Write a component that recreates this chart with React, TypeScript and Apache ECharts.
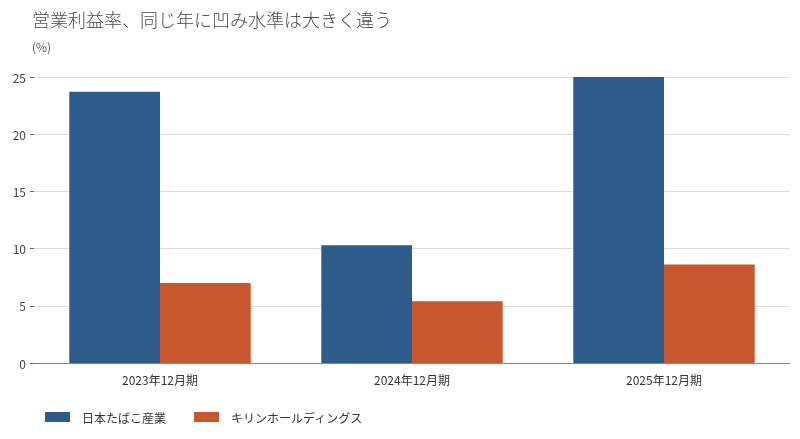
import React, { useEffect, useRef } from "react";
import * as echarts from "echarts";

const categories = ["2023年12月期", "2024年12月期", "2025年12月期"];
const seriesNames = ["日本たばこ産業", "キリンホールディングス"];
const jtValues = [23.7, 10.3, 25.0];
const kirinValues = [7.0, 5.4, 8.6];
const yTicks = { min: 0, max: 25, interval: 5 };

const FONT = "'Noto Sans CJK JP', 'Noto Sans', sans-serif";

export default function App() {
  const ref = useRef<HTMLDivElement>(null);
  useEffect(() => {
    if (!ref.current) return;
    const chart = echarts.init(ref.current, undefined, { renderer: "svg" });
    chart.setOption({
      animation: false,
      textStyle: { fontFamily: FONT },
      title: {
        text: "営業利益率、同じ年に凹み水準は大きく違う",
        left: 27,
        top: 5,
        textStyle: { fontSize: 18, fontWeight: 300, color: "#4a4a4a", fontFamily: FONT },
      },
      grid: { left: 34, right: 10, top: 77, bottom: 76 },
      legend: {
        left: 40,
        top: 406,
        itemWidth: 25,
        itemHeight: 10,
        itemGap: 28,
        icon: "rect",
        textStyle: { fontSize: 12, color: "#333", fontFamily: FONT, padding: [0, 0, 0, 7] },
        data: seriesNames,
      },
      xAxis: {
        type: "category",
        data: categories,
        axisLine: { lineStyle: { color: "#888" } },
        axisTick: { alignWithLabel: true, length: 4, lineStyle: { color: "#666" } },
        axisLabel: { fontSize: 12, color: "#333", margin: 10, fontFamily: FONT },
      },
      yAxis: {
        type: "value",
        min: yTicks.min,
        max: yTicks.max,
        interval: yTicks.interval,
        name: "(%)",
        nameLocation: "end",
        nameGap: 25,
        nameTextStyle: { fontSize: 12, color: "#555", align: "left", padding: [0, 0, 0, -2], fontFamily: FONT },
        axisLine: { show: false },
        axisTick: { show: true, length: 4, lineStyle: { color: "#666" } },
        axisLabel: { fontSize: 12, color: "#444", margin: 8, fontFamily: FONT },
        splitLine: { lineStyle: { color: "#dcdcdc" } },
      },
      series: [
        {
          name: seriesNames[0],
          type: "bar",
          data: jtValues,
          barGap: "0%",
          barCategoryGap: "28%",
          itemStyle: { color: "#2e5c8a" },
        },
        {
          name: seriesNames[1],
          type: "bar",
          data: kirinValues,
          barGap: "0%",
          barCategoryGap: "28%",
          itemStyle: { color: "#c8562e" },
        },
      ],
    });
    return () => chart.dispose();
  }, []);
  return (
    <div
      ref={ref}
      style={{ position: "fixed", left: 0, top: 0, width: 800, height: 439 }}
    />
  );
}
